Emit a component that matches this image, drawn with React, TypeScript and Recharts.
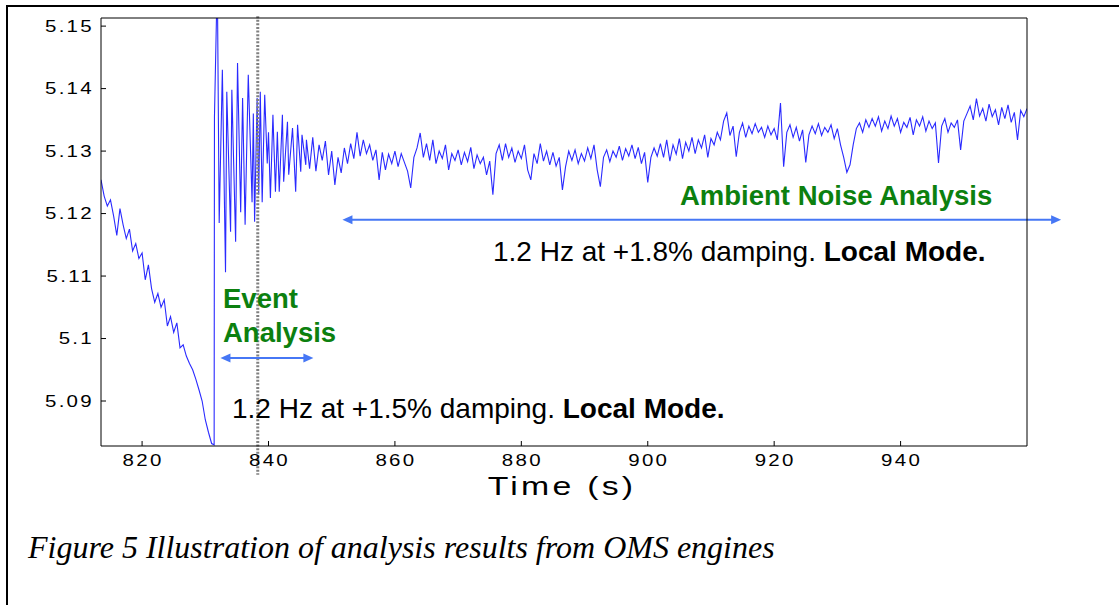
import React from "react";
import { LineChart, Line, XAxis, YAxis, ReferenceLine } from "recharts";

// frequency trace before the event (time s, value Hz)
const preEvent: [number, number][] = [
  [813.5, 5.1254], [814, 5.1228], [814.5, 5.1212], [815, 5.1222], [815.5, 5.1196],
  [816, 5.1165], [816.5, 5.1208], [817, 5.1182], [817.5, 5.116], [818, 5.1175],
  [818.5, 5.114], [819, 5.1152], [819.5, 5.1128], [820, 5.1137], [820.5, 5.1094],
  [821, 5.1118], [821.5, 5.108], [822, 5.1058], [822.5, 5.1072], [823, 5.105],
  [823.5, 5.1062], [824, 5.102], [824.5, 5.1035], [825, 5.101], [825.5, 5.1025],
  [826, 5.0985], [826.5, 5.099], [827, 5.0972], [827.5, 5.096], [828, 5.095],
  [828.5, 5.0935], [829, 5.0918], [829.5, 5.09], [830, 5.087], [830.5, 5.085],
  [831, 5.0832], [831.4, 5.083],
];

// ringdown after the event
const eventSwing: [number, number][] = [
  [831.45, 5.1355], [831.9, 5.158], [832.2, 5.1185], [832.7, 5.143], [833.2, 5.1106],
  [833.4, 5.1395], [834, 5.1171], [834.2, 5.1398], [834.8, 5.1155], [835.1, 5.1441],
  [835.6, 5.1202], [835.9, 5.1385], [836.3, 5.1182], [836.8, 5.1422], [837.4, 5.1218],
  [837.6, 5.136], [837.8, 5.1187], [838.2, 5.1385], [838.45, 5.123], [838.7, 5.1395],
  [839, 5.1218], [839.4, 5.139], [839.8, 5.128], [840, 5.133], [840.3, 5.1225],
  [840.7, 5.1358], [841.1, 5.1235], [841.4, 5.1331], [841.7, 5.1235], [842.2, 5.1358],
  [842.4, 5.1251], [843, 5.1347], [843.2, 5.1262], [843.8, 5.1337], [844.3, 5.1235],
  [844.6, 5.1342], [845.1, 5.1267], [845.3, 5.1326], [845.9, 5.1278],
];

// ambient data, sampled every 0.5 s from 846 s
const ambientStart = 846;
const ambientStep = 0.5;
const ambient = [
  5.1318, 5.1272, 5.1322, 5.1268, 5.131, 5.1285, 5.1316, 5.1262, 5.13, 5.1246,
  5.129, 5.1265, 5.1305, 5.128, 5.1312, 5.1288, 5.133, 5.1292, 5.1318, 5.1296,
  5.131, 5.1285, 5.1302, 5.1254, 5.1298, 5.127, 5.1295, 5.128, 5.13, 5.1275,
  5.1296, 5.1282, 5.1268, 5.1241, 5.129, 5.1305, 5.1329, 5.129, 5.1312, 5.1285,
  5.1318, 5.128, 5.13, 5.1288, 5.131, 5.127, 5.1296, 5.1285, 5.1302, 5.1278,
  5.1298, 5.1283, 5.1306, 5.1272, 5.1294, 5.128, 5.129, 5.1262, 5.1284, 5.123,
  5.1296, 5.131, 5.1285, 5.1312, 5.129, 5.1305, 5.1282, 5.13, 5.1288, 5.131,
  5.127, 5.1254, 5.1296, 5.128, 5.1312, 5.1284, 5.13, 5.1278, 5.1298, 5.1276,
  5.129, 5.1238, 5.1275, 5.13, 5.1285, 5.1302, 5.128, 5.1296, 5.1284, 5.1305,
  5.1288, 5.131, 5.127, 5.1243, 5.129, 5.1302, 5.1283, 5.13, 5.129, 5.1308,
  5.1285, 5.1304, 5.1292, 5.131, 5.1288, 5.1306, 5.128, 5.1298, 5.125, 5.129,
  5.1305, 5.1292, 5.1312, 5.129, 5.1318, 5.1284, 5.131, 5.1295, 5.132, 5.1288,
  5.1314, 5.13, 5.1322, 5.1296, 5.1318, 5.1305, 5.1326, 5.129, 5.132, 5.131,
  5.133, 5.1318, 5.1348, 5.1361, 5.1325, 5.134, 5.1291, 5.133, 5.1345, 5.1322,
  5.134, 5.1328, 5.1344, 5.133, 5.1338, 5.1322, 5.134, 5.1326, 5.1336, 5.1318,
  5.1377, 5.1275, 5.133, 5.1342, 5.1322, 5.1338, 5.1316, 5.1334, 5.1282, 5.1326,
  5.134, 5.1328, 5.1344, 5.1325, 5.1338, 5.133, 5.1342, 5.132, 5.1336, 5.131,
  5.129, 5.1266, 5.1278, 5.131, 5.1336, 5.1345, 5.133, 5.135, 5.1338, 5.1352,
  5.134, 5.1355, 5.1332, 5.1348, 5.1336, 5.1356, 5.134, 5.1352, 5.133, 5.1346,
  5.1338, 5.1354, 5.1326, 5.135, 5.134, 5.1355, 5.1332, 5.1348, 5.1336, 5.1345,
  5.1281, 5.134, 5.1352, 5.133, 5.1345, 5.1338, 5.135, 5.1302, 5.1348, 5.136,
  5.1372, 5.135, 5.1384, 5.1356, 5.1368, 5.1348, 5.1375, 5.1355, 5.1366, 5.1342,
  5.137, 5.1352, 5.1374, 5.1346, 5.1362, 5.1318, 5.1365, 5.1355, 5.1368,
];

const xTicks = [820, 840, 860, 880, 900, 920, 940];
const yTicks = [5.09, 5.1, 5.11, 5.12, 5.13, 5.14, 5.15];
const xDomain = [813.5, 960];
const yDomain = [5.0828, 5.1513];

const eventMark = 838.3;
const eventArrow = { from: 832.4, to: 847.1, y: 5.0969 };
const ambientArrow = { from: 851.7, to: 965.4, y: 5.119 };

const series = [
  ...preEvent,
  ...eventSwing,
  ...ambient.map((v, i): [number, number] => [ambientStart + i * ambientStep, v]),
].map(([t, v]) => ({ t, v }));

const SANS = "'Liberation Sans', Arial, sans-serif";
const GREEN = "#0c800f";
const ARROW = "#4677f5";

const XTick = (props: any) => {
  const { x, y, payload } = props;
  return (
    <g transform={`translate(${x + 1},${y - 0.5})`}>
      <text textAnchor="middle" dy="0.72em" fontSize={16} fontFamily={SANS} fill="#000"
        letterSpacing={1.8} transform="scale(1.28,1)">
        {payload.value}
      </text>
    </g>
  );
};

const YTick = (props: any) => {
  const { x, y, payload } = props;
  return (
    <g transform={`translate(${x + 2},${y})`}>
      <text textAnchor="end" dy="0.36em" fontSize={16} fontFamily={SANS} fill="#000"
        letterSpacing={1.8} transform="scale(1.28,1)">
        {String(payload.value)}
      </text>
    </g>
  );
};

const DoubleArrow = (props: any) => {
  const { x1, y1, x2, y2 } = props;
  const head = 10;
  const half = 4.5;
  return (
    <g>
      <line x1={x1 + 4} y1={y1} x2={x2 - 4} y2={y2} stroke={ARROW} strokeWidth={2} />
      <polygon points={`${x1},${y1} ${x1 + head},${y1 - half} ${x1 + head},${y1 + half}`} fill={ARROW} />
      <polygon points={`${x2},${y2} ${x2 - head},${y2 - half} ${x2 - head},${y2 + half}`} fill={ARROW} />
    </g>
  );
};

export default function App() {
  return (
    <div style={{ position: "fixed", left: 0, top: 0, width: 1119, height: 605, overflow: "hidden", background: "#fff" }}>
      <div style={{ position: "absolute", left: 6, top: 5, width: 2000, height: 2000, borderLeft: "2px solid #000", borderTop: "2px solid #000" }} />
      <div style={{ position: "absolute", left: 0, top: 0 }}>
        <LineChart width={1119} height={605} data={series} margin={{ top: 17, right: 91, bottom: 129, left: 41 }}>
          <XAxis xAxisId="b" dataKey="t" type="number" domain={xDomain} allowDataOverflow ticks={xTicks}
            tickSize={-5} tickMargin={14} tick={<XTick />} stroke="#000" height={30} />
          <XAxis xAxisId="t" dataKey="t" type="number" domain={xDomain} allowDataOverflow ticks={xTicks}
            orientation="top" height={1} tick={false} tickSize={-5} stroke="#000" />
          <YAxis yAxisId="l" type="number" domain={yDomain} allowDataOverflow ticks={yTicks}
            width={60} tickSize={-5} tickMargin={14} tick={<YTick />} stroke="#000" />
          <YAxis yAxisId="r" type="number" domain={yDomain} allowDataOverflow ticks={yTicks}
            orientation="right" width={1} tick={false} tickSize={-5} stroke="#000" />
          <Line xAxisId="b" yAxisId="l" type="linear" dataKey="v" stroke="#2a2aff" strokeWidth={1.1}
            dot={false} isAnimationActive={false} />
          <ReferenceLine xAxisId="b" yAxisId="l" ifOverflow="visible" stroke="#808080" strokeWidth={3}
            strokeDasharray="2 1.6"
            segment={[{ x: eventMark, y: 5.1516 }, { x: eventMark, y: 5.0782 }]} />
          <ReferenceLine xAxisId="b" yAxisId="l" ifOverflow="visible" shape={<DoubleArrow />}
            segment={[{ x: eventArrow.from, y: eventArrow.y }, { x: eventArrow.to, y: eventArrow.y }]} />
          <ReferenceLine xAxisId="b" yAxisId="l" ifOverflow="visible" shape={<DoubleArrow />}
            segment={[{ x: ambientArrow.from, y: ambientArrow.y }, { x: ambientArrow.to, y: ambientArrow.y }]} />
        </LineChart>
      </div>
      <svg width={1119} height={605} style={{ position: "absolute", left: 0, top: 0, pointerEvents: "none" }}>
        <g transform="translate(562,495)">
          <text textAnchor="middle" fontFamily={SANS} fontSize={26} letterSpacing={2.5} transform="scale(1.3,1)">Time (s)</text>
        </g>
        <g fontFamily={SANS} fontSize={27.5} fontWeight="bold" fill={GREEN}>
          <text x={223} y={308}>Event</text>
          <text x={223} y={341.5}>Analysis</text>
          <text x={680} y={205}>Ambient Noise Analysis</text>
        </g>
        <g fontFamily={SANS} fontSize={28} fill="#000">
          <text x={232} y={418}>
            1.2 Hz at +1.5% damping. <tspan fontWeight="bold">Local Mode.</tspan>
          </text>
          <text x={493} y={261}>
            1.2 Hz at +1.8% damping. <tspan fontWeight="bold">Local Mode.</tspan>
          </text>
        </g>
        <text x={28} y={558} fontFamily="'Liberation Serif', 'Times New Roman', serif" fontStyle="italic" fontSize={32}>
          Figure 5 Illustration of analysis results from OMS engines
        </text>
      </svg>
    </div>
  );
}
